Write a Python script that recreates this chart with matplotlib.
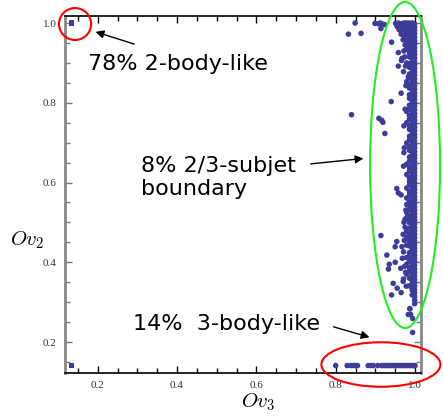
import numpy as np
import matplotlib
matplotlib.use("Agg")
import matplotlib.pyplot as plt
from matplotlib.patches import Ellipse
from matplotlib.ticker import MultipleLocator

plt.rcParams["mathtext.fontset"] = "cm"

# --- data (Ov3, Ov2) ---
# the 2-body-like cluster and a lone point in the bottom-left corner
corner_x = [0.134, 0.134]
corner_y = [1.0, 0.141]

# 3-body-like row along the bottom
row_y = 0.141
row_x = [0.800, 0.829, 0.838, 0.845, 0.850, 0.855, 0.882, 0.889, 0.895, 0.906,
         0.916, 0.921, 0.926, 0.930, 0.935, 0.940, 0.944, 0.949, 0.953, 0.958,
         0.962, 0.967, 0.971, 0.976, 0.980, 0.985, 0.989, 0.993, 0.997, 1.0]

# dense boundary band near Ov3 = 1, stored column by column
band_c1_x = 0.999
band_c1_y = [0.296, 0.305, 0.314, 0.323, 0.331, 0.34, 0.349, 0.357, 0.366, 0.375,
             0.383, 0.392, 0.401, 0.409, 0.418, 0.427, 0.435, 0.444, 0.453, 0.461,
             0.47, 0.479, 0.487, 0.496, 0.505, 0.513, 0.522, 0.531, 0.539, 0.548,
             0.557, 0.565, 0.574, 0.583, 0.591, 0.6, 0.609, 0.617, 0.626, 0.635,
             0.643, 0.652, 0.661, 0.669, 0.678, 0.687, 0.695, 0.704, 0.713, 0.721,
             0.73, 0.739, 0.747, 0.756, 0.765, 0.773, 0.782, 0.791, 0.799, 0.808,
             0.817, 0.825, 0.834, 0.843, 0.851, 0.86, 0.869, 0.877, 0.886, 0.895,
             0.903, 0.912, 0.921, 0.929, 0.938, 0.947, 0.955, 0.964, 0.973, 0.981,
             0.99, 0.997]
band_c2_x = 0.993
band_c2_y = [0.318, 0.33, 0.344, 0.352, 0.363, 0.371, 0.38, 0.39, 0.398, 0.41,
             0.419, 0.43, 0.437, 0.448, 0.455, 0.466, 0.474, 0.483, 0.494, 0.502,
             0.51, 0.52, 0.528, 0.537, 0.547, 0.556, 0.563, 0.572, 0.581, 0.59,
             0.598, 0.607, 0.616, 0.624, 0.633, 0.642, 0.65, 0.659, 0.668, 0.676,
             0.685, 0.694, 0.702, 0.711, 0.72, 0.728, 0.737, 0.746, 0.754, 0.763,
             0.772, 0.78, 0.789, 0.798, 0.806, 0.815, 0.824, 0.832, 0.841, 0.85,
             0.858, 0.867, 0.876, 0.884, 0.893, 0.902, 0.91, 0.919, 0.928, 0.936,
             0.945, 0.954, 0.962, 0.971, 0.98, 0.988, 0.995, 1.0]
band_c3_x = 0.986
band_c3_y = [0.341, 0.36, 0.377, 0.386, 0.403, 0.415, 0.424, 0.441, 0.452, 0.46,
             0.471, 0.485, 0.499, 0.507, 0.516, 0.533, 0.542, 0.552, 0.568, 0.577,
             0.594, 0.603, 0.612, 0.629, 0.638, 0.654, 0.664, 0.681, 0.69, 0.707,
             0.716, 0.733, 0.742, 0.759, 0.768, 0.785, 0.794, 0.811, 0.82, 0.837,
             0.846, 0.863, 0.872, 0.889, 0.898, 0.915, 0.924, 0.932, 0.941, 0.95,
             0.958, 0.967, 0.976, 0.984, 0.993, 1.0]
band_c4_x = 0.979
band_c4_y = [0.37, 0.395, 0.412, 0.443, 0.463, 0.478, 0.512, 0.525, 0.545, 0.561,
             0.586, 0.62, 0.646, 0.699, 0.75, 0.778, 0.853, 0.9, 0.935, 0.952,
             0.96, 0.97, 0.978, 0.987, 0.995, 1.0]

# band edge and scattered points off the band
edge_x = [0.951, 0.958, 0.965, 0.972, 0.955, 0.962, 0.969, 0.960, 0.967, 0.973,
          0.965, 0.972, 0.970, 0.975, 0.972, 0.974, 0.976, 0.972, 0.970, 0.973,
          0.968, 0.974, 0.976, 0.970, 0.978, 0.992, 0.996, 0.987]
edge_y = [0.999, 1.0, 0.998, 1.0, 0.991, 0.993, 0.990, 0.983, 0.981, 0.985,
          0.972, 0.968, 0.958, 0.945, 0.930, 0.915, 0.892, 0.500, 0.470, 0.455,
          0.410, 0.390, 0.375, 0.352, 0.340, 0.337, 0.320, 0.283]
scat_x = [0.849, 0.899, 0.908, 0.912, 0.916, 0.923, 0.914, 0.832, 0.864, 0.941,
          0.958, 0.967, 0.966, 0.958, 0.971, 0.983, 0.977, 0.965, 0.940, 0.975,
          0.840, 0.909, 0.916, 0.919, 0.972, 0.924, 0.973, 0.972, 0.971, 0.954,
          0.958, 0.965, 0.977, 0.975, 0.975, 0.914, 0.954, 0.950, 0.967, 0.971,
          0.929, 0.950, 0.935, 0.964, 0.933, 0.971, 0.945, 0.955, 0.941, 0.965,
          0.987, 0.989, 0.983, 0.994, 0.994]
scat_y = [1.0, 0.999, 0.998, 1.0, 0.998, 0.996, 0.986, 0.972, 0.974, 0.952,
          0.926, 0.911, 0.906, 0.892, 0.878, 0.865, 0.843, 0.824, 0.803, 0.784,
          0.770, 0.761, 0.756, 0.751, 0.742, 0.723, 0.687, 0.675, 0.641, 0.585,
          0.574, 0.569, 0.531, 0.508, 0.488, 0.467, 0.452, 0.439, 0.439, 0.426,
          0.418, 0.400, 0.395, 0.385, 0.383, 0.358, 0.347, 0.335, 0.318, 0.324,
          0.284, 0.269, 0.269, 0.259, 0.224]

dot_color = "#3c3c9a"

fig = plt.figure(figsize=(4.43, 4.17), dpi=100)
ax = fig.add_axes([65 / 443, 44 / 417, 356 / 443, 357 / 417])

pts = dict(s=16, c=dot_color, edgecolors="none", zorder=3)
ax.scatter(corner_x, corner_y, marker="s", **pts)
ax.scatter(row_x, [row_y] * len(row_x), **pts)
for cx, cy in [(band_c1_x, band_c1_y), (band_c2_x, band_c2_y),
               (band_c3_x, band_c3_y), (band_c4_x, band_c4_y)]:
    ax.scatter([cx] * len(cy), cy, **pts)
ax.scatter(edge_x, edge_y, **pts)
ax.scatter(scat_x, scat_y, **pts)

ax.set_xlim(0.1176, 1.0151)
ax.set_ylim(0.1223, 1.0176)

# frame and ticks
for side in ["left", "right"]:
    ax.spines[side].set_color("#888888")
    ax.spines[side].set_linewidth(2)
for side in ["top", "bottom"]:
    ax.spines[side].set_color("black")
    ax.spines[side].set_linewidth(1.2)

ax.xaxis.set_major_locator(MultipleLocator(0.2))
ax.xaxis.set_minor_locator(MultipleLocator(0.05))
ax.yaxis.set_major_locator(MultipleLocator(0.2))
ax.yaxis.set_minor_locator(MultipleLocator(0.05))
ax.tick_params(which="both", direction="in", top=True, right=True)
ax.tick_params(which="major", length=5, width=1)
ax.tick_params(which="minor", length=3.5, width=1)
ax.tick_params(axis="y", which="both", color="#777777", pad=6)
ax.tick_params(axis="x", which="both", color="black", pad=6)
for lab in ax.get_xticklabels() + ax.get_yticklabels():
    lab.set_family("Liberation Serif")
    lab.set_fontsize(8)
    lab.set_color("#333333")

ax.text(0.542, -0.081, r"$Ov_3$", transform=ax.transAxes, fontsize=15,
        ha="center", va="center")
ax.text(-0.107, 0.3725, r"$Ov_2$", transform=ax.transAxes, fontsize=15,
        ha="center", va="center")

# annotations
ell = dict(fill=False, lw=1.5, clip_on=False, zorder=4)
ax.add_patch(Ellipse((0.143, 0.9975), 0.081, 0.080, edgecolor="red", **ell))
ax.add_patch(Ellipse((0.975, 0.644), 0.1765, 0.8176, edgecolor="#22ee22", **ell))
ax.add_patch(Ellipse((0.914, 0.1436), 0.300, 0.1116, edgecolor="red", **ell))

txt = dict(fontsize=16, family="DejaVu Sans", ha="left", va="baseline")
ax.text(0.176, 0.882, "78% 2-body-like", **txt)
ax.text(0.309, 0.569, "8% 2/3-subjet\nboundary", **txt)
ax.text(0.289, 0.230, "14%  3-body-like", **txt)

arr = dict(arrowstyle="-|>", color="black", lw=1, mutation_scale=12)
ax.annotate("", xy=(0.188, 0.980), xytext=(0.299, 0.945), arrowprops=arr)
ax.annotate("", xy=(0.877, 0.661), xytext=(0.730, 0.646), arrowprops=arr)
ax.annotate("", xy=(0.892, 0.210), xytext=(0.788, 0.240), arrowprops=arr)

fig.savefig("out.png", dpi=100)
